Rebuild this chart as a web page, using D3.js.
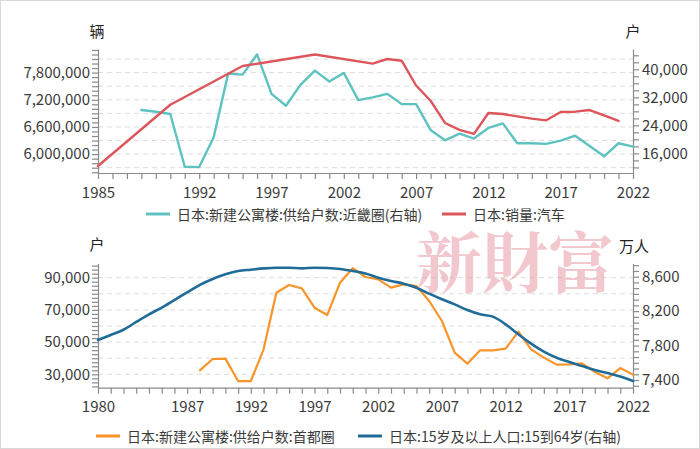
<!DOCTYPE html>
<html><head><meta charset="utf-8">
<script src="https://cdn.jsdelivr.net/npm/d3@7"></script>
<style>
html,body{margin:0;padding:0;background:#fff;}
svg text{font-family:"Microsoft YaHei","Noto Sans CJK SC","Noto Sans",sans-serif;}
</style></head>
<body><svg id="c" width="700" height="449"></svg>
<script>
// ---------- DATA ----------
const topXTickLabels = [1985,1992,1997,2002,2007,2012,2017,2022];
const bottomXTickLabels = [1980,1987,1992,1997,2002,2007,2012,2017,2022];
const topLeftTickLabels = [6000000,6600000,7200000,7800000];
const topRightTickLabels = [16000,24000,32000,40000];
const bottomLeftTickLabels = [30000,50000,70000,90000];
const bottomRightTickLabels = [7400,7800,8200,8600];

// 日本:销量:汽车 (left axis, 辆)
const salesYears = [1985,1990,1995,2000,2004,2005,2006,2007,2008,2009,2010,2011,2012,2013,2014,2015,2016,2017,2018,2019,2020,2021];
const salesCars  = [5737000,7090000,7946000,8200000,7998000,8100000,8063000,7515000,7178000,6688000,6534000,6446000,6907000,6885000,6834000,6783000,6746000,6929000,6937000,6973000,6856000,6732000];

// 日本:新建公寓楼:供给户数:近畿圈 (right axis, 户)
const kinkiYears = [1988,1989,1990,1991,1992,1993,1994,1995,1996,1997,1998,1999,2000,2001,2002,2003,2004,2005,2006,2007,2008,2009,2010,2011,2012,2013,2014,2015,2016,2017,2018,2019,2020,2021,2022];
const kinkiSupply = [28370,27890,27230,12170,12090,20600,38770,38490,44260,33000,29600,35570,39630,36510,38970,31200,31970,33000,30060,30060,22690,19740,21630,20230,23260,24570,18890,18890,18710,19660,21060,18110,15170,18890,17940];

// 日本:新建公寓楼:供给户数:首都圈 (left axis, 户)
const shutoYears = [1988,1989,1990,1991,1992,1993,1994,1995,1996,1997,1998,1999,2000,2001,2002,2003,2004,2005,2006,2007,2008,2009,2010,2011,2012,2013,2014,2015,2016,2017,2018,2019,2020,2021,2022];
const shutoSupply = [32480,39500,39750,25840,25840,45530,80680,85470,83350,71370,66830,86890,95900,90430,88940,83790,85840,84850,75530,63110,43480,36650,44910,44910,45960,56460,45530,40370,36030,36210,36830,31490,27520,33910,29810];

// 日本:15岁及以上人口:15到64岁 (right axis, 万人)
const popYears = [1980,1981,1982,1983,1984,1985,1986,1987,1988,1989,1990,1991,1992,1993,1994,1995,1996,1997,1998,1999,2000,2001,2002,2003,2004,2005,2006,2007,2008,2009,2010,2011,2012,2013,2014,2015,2016,2017,2018,2019,2020,2021,2022];
const popWorking = [7865,7923,7984,8074,8163,8240,8329,8418,8504,8573,8627,8666,8681,8696,8704,8704,8696,8704,8700,8689,8666,8638,8588,8550,8519,8472,8403,8338,8279,8213,8163,8136,8047,7931,7822,7729,7659,7609,7563,7516,7481,7440,7389];

const legendTop = ["日本:新建公寓楼:供给户数:近畿圈(右轴)","日本:销量:汽车"];
const legendBottom = ["日本:新建公寓楼:供给户数:首都圈","日本:15岁及以上人口:15到64岁(右轴)"];

// ---------- DRAW ----------
const svg = d3.select("#c");
const C = {teal:"#5ec3c0", red:"#dc565c", orange:"#f7952b", blue:"#1f6c98",
           axis:"#8a8a8a", text:"#3a3a3a", grid:"#dcdcdc"};
const fmt = d3.format(",");

svg.append("rect").attr("x",0.5).attr("y",0.5).attr("width",699).attr("height",448)
  .attr("fill","#fff").attr("stroke","#d8d8d8");

function near(list, v, eps){ return list.some(x => Math.abs(x - v) < eps); }

function panel(cfg){
  const g = svg.append("g");
  const x = d3.scaleLinear().domain(cfg.xDomain).range([98,633]);
  const yL = d3.scaleLinear().domain(cfg.lDomain).range(cfg.yRange);
  const yR = d3.scaleLinear().domain(cfg.rDomain).range(cfg.yRange);

  g.append("g").selectAll("line").data(cfg.grid).join("line")
    .attr("x1",98).attr("x2",633).attr("y1",d=>yL(d)).attr("y2",d=>yL(d))
    .attr("stroke",C.grid).attr("stroke-dasharray","5,4").attr("stroke-width",1);

  const xTicks = d3.range(cfg.xDomain[0], cfg.xDomain[1]+1);
  const xa = g.append("g").attr("transform",`translate(0,${cfg.yRange[0]})`)
    .call(d3.axisBottom(x).tickValues(xTicks).tickSize(6).tickSizeOuter(0)
      .tickFormat(d => cfg.xLabels.includes(d) ? String(d) : ""));
  const la = g.append("g").attr("transform","translate(98,0)")
    .call(d3.axisLeft(yL).tickValues(cfg.lMinor).tickSize(6).tickSizeOuter(0)
      .tickFormat(d => near(cfg.lLabels,d,1e-6*Math.abs(d)+1e-9) ? fmt(Math.round(d)) : ""));
  const ra = g.append("g").attr("transform","translate(633,0)")
    .call(d3.axisRight(yR).tickValues(cfg.rMinor).tickSize(6).tickSizeOuter(0)
      .tickFormat(d => near(cfg.rLabels,d,1e-3) ? fmt(Math.round(d)) : ""));
  [xa,la,ra].forEach(a=>{
    a.select(".domain").attr("stroke",C.axis).attr("stroke-width",1.2);
    a.selectAll(".tick line").attr("stroke",C.axis).attr("stroke-width",1.2);
    a.selectAll(".tick text").attr("fill",C.text).style("font-size","15px");
  });
  xa.selectAll(".tick text").attr("dy","1.05em");
  la.selectAll(".tick text").attr("x",-8);
  ra.selectAll(".tick text").attr("x",9);

  cfg.series.forEach(s=>{
    const yS = s.axis === "L" ? yL : yR;
    const pts = s.years.map((yr,i)=>[x(yr), yS(s.values[i])]);
    g.append("path").attr("d", d3.line().curve(s.curve||d3.curveLinear)(pts))
      .attr("fill","none").attr("stroke",s.color).attr("stroke-width",s.w)
      .attr("stroke-linejoin","round").attr("stroke-linecap","round");
  });

  cfg.units.forEach(u=>{
    g.append("text").attr("x",u[0]).attr("y",u[1]).attr("text-anchor","middle")
      .attr("dominant-baseline","central").attr("fill","#222").style("font-size","15px").text(u[2]);
  });

  cfg.legend.forEach(l=>{
    g.append("line").attr("x1",l.x).attr("x2",l.x+24).attr("y1",cfg.legendY).attr("y2",cfg.legendY)
      .attr("stroke",l.color).attr("stroke-width",3);
    g.append("text").attr("x",l.x+31).attr("y",cfg.legendY).attr("dominant-baseline","central")
      .attr("fill",C.text).style("font-size","14px").text(l.text);
  });
}

function stepRange(a,b,s){ const out=[]; const n=Math.round((b-a)/s); for(let k=0;k<=n;k++) out.push(a+k*s); return out; }

panel({
  xDomain:[1985,2022], xLabels:topXTickLabels, yRange:[173,49],
  lDomain:[5583000,8321000], rDomain:[10400,45800],
  grid: stepRange(5700000,8100000,300000),
  lMinor: stepRange(5600000,8300000,100000), lLabels: topLeftTickLabels,
  rMinor: stepRange(12000,44000,2000), rLabels: topRightTickLabels,
  series:[
    {years:kinkiYears, values:kinkiSupply, axis:"R", color:C.teal, w:2.4},
    {years:salesYears, values:salesCars, axis:"L", color:C.red, w:2.4}
  ],
  units:[[97,30,"辆"],[633,30,"户"]],
  legendY:214,
  legend:[{x:146,color:C.teal,text:legendTop[0]},{x:442,color:C.red,text:legendTop[1]}]
});

panel({
  xDomain:[1980,2022], xLabels:bottomXTickLabels, yRange:[387.7,263.5],
  lDomain:[21700,98800], rDomain:[7311,8753],
  grid: stepRange(30000,90000,10000),
  lMinor: stepRange(22500,97500,2500), lLabels: bottomLeftTickLabels,
  rMinor: stepRange(7400-400/6,8600+400/6*2,400/6), rLabels: bottomRightTickLabels,
  series:[
    {years:shutoYears, values:shutoSupply, axis:"L", color:C.orange, w:2.2},
    {years:popYears, values:popWorking, axis:"R", color:C.blue, w:2.6, curve:d3.curveMonotoneX}
  ],
  units:[[97,243,"户"],[634,245,"万人"]],
  legendY:436,
  legend:[{x:96,color:C.orange,text:legendBottom[0]},{x:358,color:C.blue,text:legendBottom[1]}]
});

// watermark
svg.append("text").attr("x",416).attr("y",258).attr("dominant-baseline","central")
  .attr("fill","#e58f9b").attr("fill-opacity",0.5).style("font-size","66px")
  .style("font-weight","700").style("font-family",'"Noto Serif CJK SC","Noto Sans CJK TC","Noto Sans CJK SC",serif')
  .text("新財富");
</script>
</body></html>
